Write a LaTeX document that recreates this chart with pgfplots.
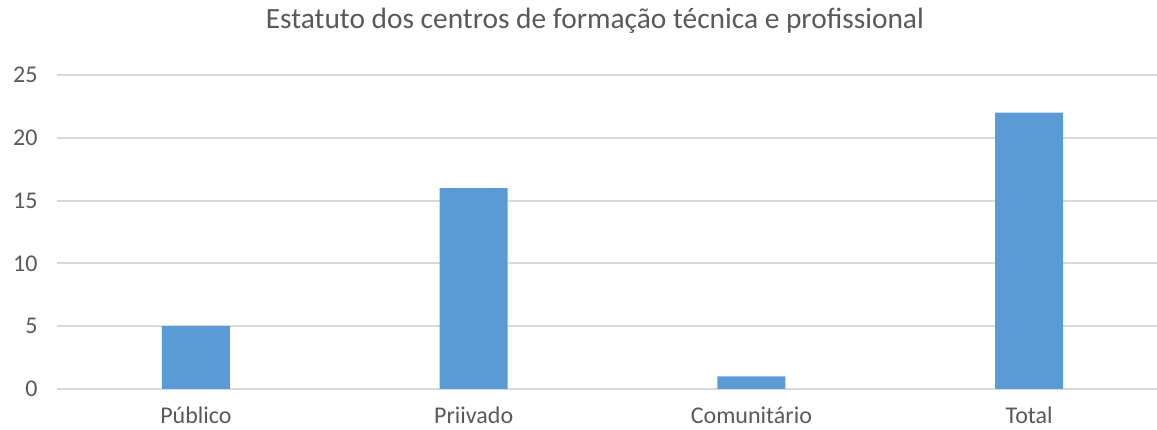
\documentclass[border=0pt]{standalone}
\usepackage{fontspec}
\setmainfont{Carlito}
\usepackage{pgfplots}
\pgfplotsset{compat=1.18}
\definecolor{barblue}{HTML}{5B9BD5}
\definecolor{txtgray}{HTML}{595959}
\definecolor{gridgray}{HTML}{D9D9D9}
\begin{document}
\begin{tikzpicture}
\path[use as bounding box] (-57pt,-41pt) rectangle (1100pt,389pt);
\begin{axis}[
  at={(0pt,0pt)}, anchor=south west,
  scale only axis, width=1100pt, height=314pt,
  xmin=-0.5, xmax=3.46, ymin=0, ymax=25,
  ytick={0,5,10,15,20,25},
  xtick={0,1,2,3},
  xticklabels={Público,Priivado,Comunitário,Total},
  axis line style={draw=none},
  major tick length=0pt,
  ymajorgrids, grid style={color=gridgray, line width=2pt},
  clip=false,
  ybar, bar width=0.245,
  tick label style={font=\fontsize{24}{28}\selectfont, text=txtgray},
  /pgf/number format/assume math mode=true,
  yticklabel style={anchor=east, xshift=-16pt},
  xticklabel style={anchor=north, yshift=-14pt},
  title={Estatuto dos centros de formação técnica e profissional},
  title style={font=\fontsize{29.4}{34}\selectfont, text=txtgray, at={(axis description cs:0.489,1.129)}, anchor=base, inner sep=0pt},
]
\addplot[fill=barblue, draw=none] coordinates {(0,5) (1,16) (2,1) (3,22)};
\end{axis}
\end{tikzpicture}
\end{document}
